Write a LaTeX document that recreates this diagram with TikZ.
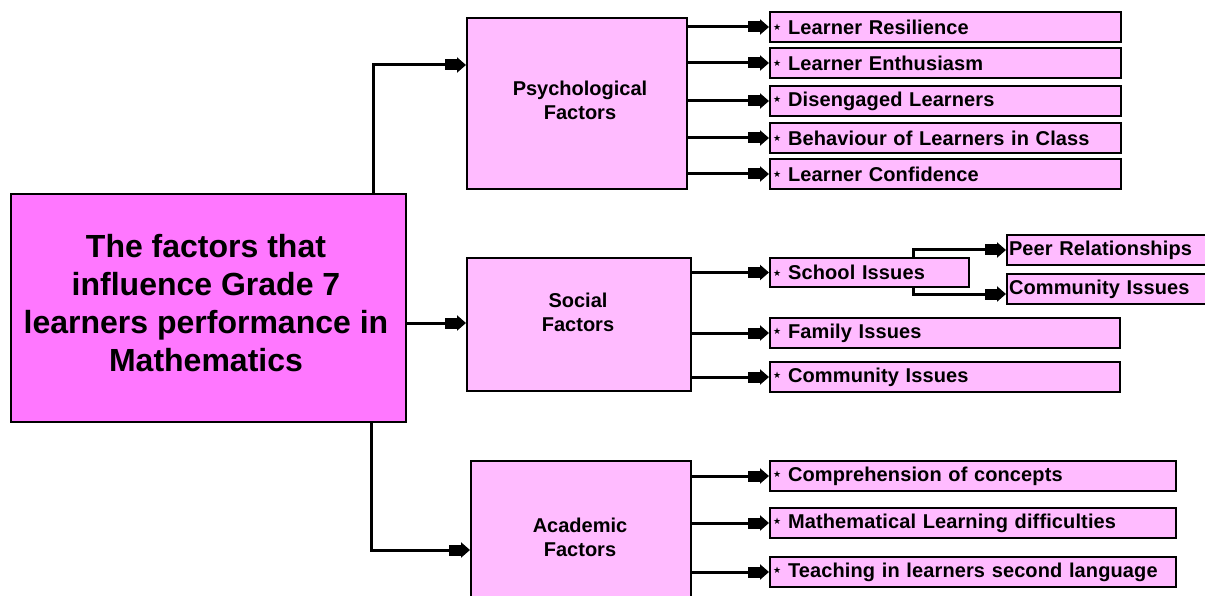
\documentclass[tikz,border=0pt]{standalone}
\usepackage{fontspec}
\setmainfont{Liberation Sans}
\newfontfamily\dejavu{DejaVu Sans}
\usetikzlibrary{arrows.meta}
\definecolor{mainpink}{RGB}{255,119,255}
\definecolor{lightpink}{RGB}{255,187,255}
\newcommand{\stmark}{\raisebox{3.5pt}{\dejavu\fontsize{9pt}{9pt}\selectfont ★}\hspace{7pt}}
\tikzset{
  box/.style={draw=black, line width=2pt, fill=lightpink, inner sep=0pt, anchor=north west},
  mainbox/.style={box, fill=mainpink},
  bigtext/.style={font=\bfseries\fontsize{32pt}{38pt}\selectfont, align=center, inner sep=0pt},
  midtext/.style={font=\bfseries\fontsize{20pt}{24pt}\selectfont, align=center, inner sep=0pt},
  leaf/.style={draw=black, line width=2pt, fill=lightpink, anchor=north west, inner xsep=3pt, inner ysep=0pt,
    align=left, font=\bfseries\fontsize{20pt}{22pt}\selectfont\addfontfeature{LetterSpace=0.6}, minimum height=30pt},
  conn/.style={line width=3pt, -{Rectangle[length=12pt,width=11pt,sep=0pt]Triangle[length=9pt,width=15pt]}},
}
\begin{document}
\begin{tikzpicture}[x=1pt,y=-1pt]
\clip (0,0) rectangle (1205,596);
\fill[white] (0,0) rectangle (1205,596);
% main and category boxes
\node[mainbox, minimum width=395pt, minimum height=228pt] (main) at (10,193) {};
\node[bigtext] (maintext) at (206,303) {The factors that\\influence Grade 7\\learners performance in\\Mathematics};
\node[box, minimum width=220pt, minimum height=171pt] (psych) at (466,17) {};
\node[midtext] (psychtext) at (580,100) {Psychological\\Factors};
\node[box, minimum width=224pt, minimum height=133pt] (social) at (466,257) {};
\node[midtext] (socialtext) at (578,312) {Social\\Factors};
\node[box, minimum width=220pt, minimum height=160pt] (acad) at (470,460) {};
\node[midtext] (acadtext) at (580,537) {Academic\\Factors};
% psychological leaves
\node[leaf, text width=345pt] (p1) at (769,11) {\stmark Learner Resilience};
\node[leaf, text width=345pt] (p2) at (769,47) {\stmark Learner Enthusiasm};
\node[leaf, text width=345pt] (p3) at (769,85) {\stmark Disengaged Learners};
\node[leaf, text width=345pt] (p4) at (769,122) {\stmark Behaviour of Learners in Class};
\node[leaf, text width=345pt] (p5) at (769,158) {\stmark Learner Confidence};
% social leaves
\node[leaf, text width=193pt, minimum height=29pt] (s1) at (769,257) {\stmark School Issues};
\node[leaf, text width=344pt] (s2) at (769,317) {\stmark Family Issues};
\node[leaf, text width=344pt] (s3) at (769,361) {\stmark Community Issues};
\node[leaf, text width=210pt, inner xsep=2pt] (s11) at (1006,234) {Peer Relationships};
\node[leaf, text width=210pt, inner xsep=2pt] (s12) at (1006,273) {Community Issues};
% academic leaves
\node[leaf, text width=400pt] (a1) at (769,460) {\stmark Comprehension of concepts};
\node[leaf, text width=400pt] (a2) at (769,507) {\stmark Mathematical Learning difficulties};
\node[leaf, text width=400pt] (a3) at (769,556) {\stmark Teaching in learners second language};
% helper coordinates
\coordinate (tx) at (373,0);
\coordinate (bx) at (371,0);
\coordinate (py) at (0,65);
\coordinate (ay) at (0,550);
\coordinate (my) at (0,323);
\coordinate (sx) at (913,0);
% connectors from main
\draw[conn] (main.north -| tx) |- (psych.west |- py);
\draw[conn] (main.east |- my) -- (social.west |- my);
\draw[conn] (main.south -| bx) |- (acad.west |- ay);
% psychological
\foreach \n in {p1,p2,p3,p4,p5} {\draw[conn] (psych.east |- \n.west) -- (\n.west);}
% social
\foreach \n in {s1,s2,s3} {\draw[conn] (social.east |- \n.west) -- (\n.west);}
\draw[conn] (s1.north -| sx) |- (s11.west);
\draw[conn] (s1.south -| sx) |- ([yshift=-5pt]s12.west);
% academic
\foreach \n in {a1,a2,a3} {\draw[conn] (acad.east |- \n.west) -- (\n.west);}
\end{tikzpicture}
\end{document}
